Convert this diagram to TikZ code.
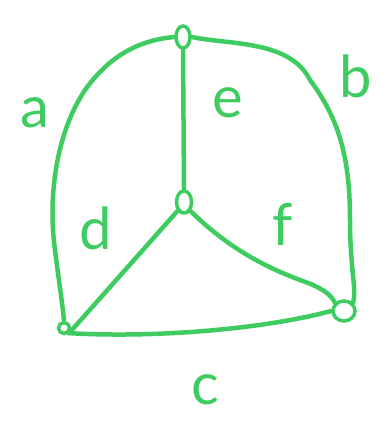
\documentclass[tikz,border=0pt]{standalone}
\usepackage{fontspec}
\setmainfont{Lato}
\usetikzlibrary{shapes.geometric}
\definecolor{pen}{RGB}{62,204,96}
\begin{document}
\begin{tikzpicture}[x=1pt,y=-1pt,
  edge/.style={draw=pen,line width=4.5pt,line cap=round,line join=round},
  vloop/.style={ellipse,draw=pen,line width=3.5pt,inner sep=0pt},
  lbl/.style={text=pen,font=\fontsize{58}{58}\selectfont,inner sep=0pt}]
\useasboundingbox (0,0) rectangle (385,430);
\node[vloop,minimum width=14pt,minimum height=22pt] (T) at (183,37) {};
\node[vloop,minimum width=15pt,minimum height=22pt] (C) at (184,202) {};
\node[vloop,minimum width=11pt,minimum height=11pt] (BL) at (64,328) {};
\node[vloop,minimum width=22pt,minimum height=20pt] (BR) at (344,311) {};
% a
\draw[edge] (T.west) .. controls (140,40) and (110,55) .. (85,90)
  .. controls (55,135) and (48,200) .. (55,250)
  .. controls (60,290) and (62,300) .. (BL.north);
% b
\draw[edge] (T.east) .. controls (230,45) and (290,40) .. (310,80)
  .. controls (340,120) and (350,160) .. (350,220)
  .. controls (350,270) and (357,290) .. (BR.north east);
% e
\draw[edge] (T.south) -- (C.north);
% d
\draw[edge] (C.south west) -- (BL.south east);
% f
\draw[edge] (C.south east) .. controls (225,245) and (260,265) .. (300,280)
  .. controls (320,287) and (330,293) .. (BR.north west);
% c
\draw[edge] (BL.south east) .. controls (150,338) and (260,330) .. (BR.west);
\node[lbl] (la) at (35,113) {a};
\node[lbl] (lb) at (356,76) {b};
\node[lbl] (le) at (228,103) {e};
\node[lbl] (ld) at (96,228) {d};
\node[lbl] (lf) at (283,224) {f};
\node[lbl] (lc) at (205,390) {c};
\end{tikzpicture}
\end{document}
